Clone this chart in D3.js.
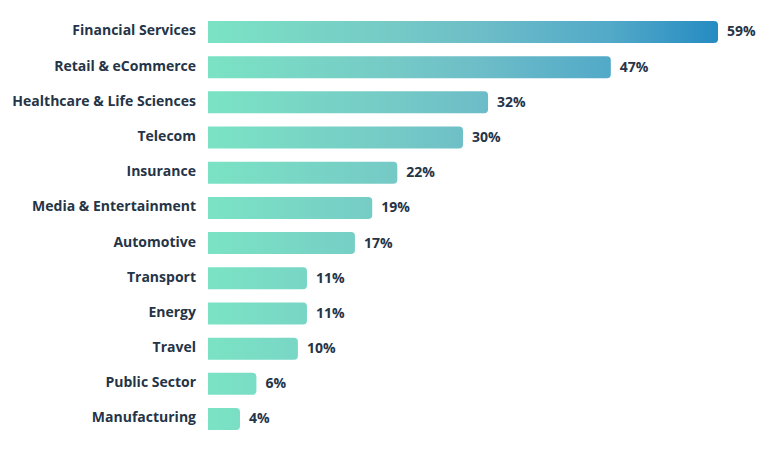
<!DOCTYPE html>
<html>
<head>
<meta charset="utf-8">
<script src="https://cdn.jsdelivr.net/npm/d3@7"></script>
<style>
  body { margin: 0; background: #fff; }
  svg { display: block; font-family: "Open Sans", sans-serif; }
</style>
</head>
<body>
<div id="chart"></div>
<script>
const categories = [
  "Financial Services", "Retail & eCommerce", "Healthcare & Life Sciences",
  "Telecom", "Insurance", "Media & Entertainment", "Automotive",
  "Transport", "Energy", "Travel", "Public Sector", "Manufacturing"
];
// bar lengths (labels are the rounded figures)
const values = [59, 46.6, 32.4, 29.5, 21.9, 19.0, 17.0, 11.45, 11.45, 10.4, 5.6, 3.7];
const labels = ["59%", "47%", "32%", "30%", "22%", "19%", "17%", "11%", "11%", "10%", "6%", "4%"];

const width = 770, height = 450;
const left = 208, barRight = 718;

const svg = d3.select("#chart").append("svg")
  .attr("width", width)
  .attr("height", height);

const x = d3.scaleLinear().domain([0, 59]).range([left, barRight]);
const y = d3.scaleBand().domain(categories).range([14.4, 436.6])
  .paddingInner(0.375).paddingOuter(0.1875);

// one gradient shared by all bars, so short bars stay mint
const grad = svg.append("defs").append("linearGradient")
  .attr("id", "barGrad")
  .attr("gradientUnits", "userSpaceOnUse")
  .attr("x1", left).attr("x2", barRight)
  .attr("y1", 0).attr("y2", 0);
[["0%", "#7be3c4"], ["37%", "#75c9c6"], ["54%", "#6cbdc8"], ["79%", "#52a9c8"], ["100%", "#268bc2"]]
  .forEach(s => grad.append("stop").attr("offset", s[0]).attr("stop-color", s[1]));

const data = categories.map((c, i) => ({ name: c, value: values[i], label: labels[i] }));

// square left edge, rounded right edge
function barPath(d) {
  const x0 = x(0), x1 = x(d.value), y0 = y(d.name), h = y.bandwidth();
  const r = Math.min(4, (x1 - x0) / 2);
  return `M${x0},${y0}H${x1 - r}Q${x1},${y0} ${x1},${y0 + r}` +
    `V${y0 + h - r}Q${x1},${y0 + h} ${x1 - r},${y0 + h}H${x0}Z`;
}

svg.append("g").selectAll("path")
  .data(data)
  .join("path")
  .attr("d", barPath)
  .attr("fill", "url(#barGrad)");

svg.append("g").selectAll("text")
  .data(data)
  .join("text")
  .attr("x", left - 12)
  .attr("y", d => y(d.name) + y.bandwidth() / 2 - 1)
  .attr("dy", "0.32em")
  .attr("text-anchor", "end")
  .attr("font-size", 14)
  .attr("font-weight", 700)
  .attr("fill", "#253447")
  .text(d => d.name);

svg.append("g").selectAll("text")
  .data(data)
  .join("text")
  .attr("x", d => x(d.value) + 9)
  .attr("y", d => y(d.name) + y.bandwidth() / 2)
  .attr("dy", "0.32em")
  .attr("font-size", 14)
  .attr("font-weight", 700)
  .attr("fill", "#253447")
  .text(d => d.label);
</script>
</body>
</html>
